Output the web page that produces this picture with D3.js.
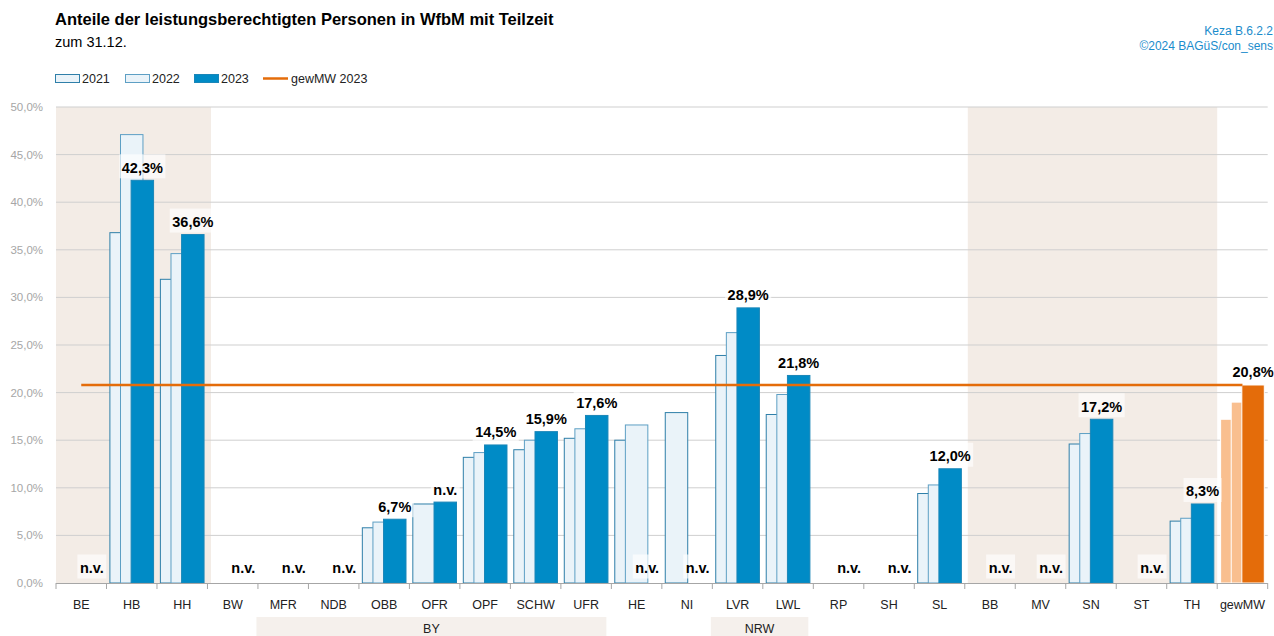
<!DOCTYPE html>
<html>
<head>
<meta charset="utf-8">
<script src="https://cdn.jsdelivr.net/npm/d3@7"></script>
<style>
  body { margin: 0; background: #fff; }
  svg { font-family: "Liberation Sans", Arial, sans-serif; }
</style>
</head>
<body>
<div class="chart"></div>
<script>
// Werte
const categories = ["BE","HB","HH","BW","MFR","NDB","OBB","OFR","OPF","SCHW","UFR","HE","NI","LVR","LWL","RP","SH","SL","BB","MV","SN","ST","TH","gewMW"];
const v2021 = [null,36.8,31.9,null,null,null,5.8,8.3,13.2,14.0,15.2,15.0,17.9,23.9,17.7,null,null,9.4,null,null,14.6,null,6.5,17.2];
const v2022 = [null,47.1,34.6,null,null,null,6.4,null,13.7,15.0,16.2,16.6,null,26.3,19.8,null,null,10.3,null,null,15.7,null,6.8,19.0];
const v2023 = [null,42.3,36.6,null,null,null,6.7,8.5,14.5,15.9,17.6,null,null,28.9,21.8,null,null,12.0,null,null,17.2,null,8.3,20.8];
const labels2023 = ["n.v.","42,3%","36,6%","n.v.","n.v.","n.v.","6,7%","n.v.","14,5%","15,9%","17,6%","n.v.","n.v.","28,9%","21,8%","n.v.","n.v.","12,0%","n.v.","n.v.","17,2%","n.v.","8,3%","20,8%"];
const gewMW2023 = 20.8;
const yTicks = [0,5,10,15,20,25,30,35,40,45,50];
const shaded = [["BE","HH"],["BB","TH"]];
const groups = [["BY","MFR","UFR"],["NRW","LVR","LWL"]];
const years = ["2021","2022","2023"];

const width = 1274, height = 636;
const svg = d3.select('.chart')
              .append('svg')
              .attr('width', width)
              .attr('height', height);

const x = d3.scaleBand().domain(categories).range([56, 1267.7]).padding(0);
const y = d3.scaleLinear().domain([0, 50]).range([583, 107]);
const bw = x.bandwidth();
const fmt = d => d.toFixed(1).replace('.', ',') + '%';

// Hintergrundflächen
shaded.forEach(function(s, i) {
  const x0 = x(s[0]) + (i ? 3 : 0);
  const x1 = x(s[1]) + bw + (i ? 0 : 3.5);
  svg.append("rect")
    .attr("x", x0).attr("y", y(50))
    .attr("width", x1 - x0).attr("height", y(0) - y(50))
    .attr("fill", "#f3ece6");
});

// Gitter
svg.append("g")
  .selectAll("line")
  .data(yTicks.slice(1))
  .enter().append("line")
  .attr("x1", 56).attr("x2", 1267.7)
  .attr("y1", d => y(d)).attr("y2", d => y(d))
  .attr("stroke", "#cfcfcf").attr("stroke-width", 1);

svg.append("g")
  .selectAll("text")
  .data(yTicks)
  .enter().append("text")
  .attr("x", 43).attr("y", d => y(d) + 4)
  .attr("text-anchor", "end")
  .attr("font-size", "11.5px")
  .attr("fill", "#a6a6a6")
  .text(fmt);

// Balken
const series = [
  {vals: v2021, off: -0.21, fill: "#eaf3f9", stroke: "#2f7fa9", ofill: "#f9bf8f"},
  {vals: v2022, off: 0, fill: "#eaf3f9", stroke: "#5d9fc4", ofill: "#f9bf8f"},
  {vals: v2023, off: 0.21, fill: "#008bc6", stroke: "#1a86b8", ofill: "#e46c0a"}
];
const barW = bw * 0.445;
series.forEach(function(s) {
  const d = categories.map((c, i) => ({c: c, v: s.vals[i]})).filter(d => d.v != null);
  svg.append("g")
    .selectAll("rect")
    .data(d)
    .enter().append("rect")
    .attr("x", d => x(d.c) + bw / 2 + s.off * bw - barW / 2)
    .attr("y", d => y(d.v))
    .attr("width", barW)
    .attr("height", d => y(0) - y(d.v))
    .attr("fill", d => d.c === "gewMW" ? s.ofill : s.fill)
    .attr("stroke", d => d.c === "gewMW" ? "#fff" : s.stroke)
    .attr("stroke-width", 1);
});

// Achse
svg.append("line")
  .attr("x1", 56).attr("x2", 1267.7)
  .attr("y1", y(0) + 0.5).attr("y2", y(0) + 0.5)
  .attr("stroke", "#a6a6a6");
svg.append("g")
  .selectAll("line")
  .data(categories.concat(["end"]))
  .enter().append("line")
  .attr("x1", (d, i) => 56 + i * bw).attr("x2", (d, i) => 56 + i * bw)
  .attr("y1", y(0)).attr("y2", y(0) + 6)
  .attr("stroke", "#a6a6a6");
svg.append("g")
  .selectAll("text")
  .data(categories)
  .enter().append("text")
  .attr("x", d => x(d) + bw / 2).attr("y", 609)
  .attr("text-anchor", "middle")
  .attr("font-size", "12.5px")
  .attr("fill", "#222")
  .text(d => d);

// Gruppen (BY, NRW)
groups.forEach(function(g) {
  const x0 = x(g[1]) - 1.5, x1 = x(g[2]) + bw - 5;
  svg.append("rect")
    .attr("x", x0).attr("y", 617).attr("width", x1 - x0).attr("height", 19)
    .attr("fill", "#f5f0ec");
  svg.append("text")
    .attr("x", (x0 + x1) / 2).attr("y", 633)
    .attr("text-anchor", "middle")
    .attr("font-size", "12.5px").attr("fill", "#222")
    .text(g[0]);
});

// gewichteter Mittelwert
svg.append("line")
  .attr("x1", x(categories[0]) + bw / 2)
  .attr("x2", x("gewMW") + bw / 2)
  .attr("y1", y(gewMW2023)).attr("y2", y(gewMW2023))
  .attr("stroke", "#e46c0a").attr("stroke-width", 2.5);

// Beschriftungen 2023
const lab = svg.append("g");
categories.forEach(function(c, i) {
  const cx = x(c) + bw / 2 + 0.21 * bw;
  const by = v2023[i] != null ? y(v2023[i]) - 7.5 : y(0) - 10;
  const g = lab.append("g");
  const t = g.append("text")
    .attr("x", cx).attr("y", by)
    .attr("text-anchor", "middle")
    .attr("font-size", "14.5px").attr("font-weight", "bold")
    .attr("fill", "#000")
    .text(labels2023[i]);
  const w = t.node().getComputedTextLength();
  g.insert("rect", "text")
    .attr("x", cx - w / 2 - 2.5).attr("y", by - 18.5)
    .attr("width", w + 5).attr("height", 24)
    .attr("fill", "#fff").attr("fill-opacity", 0.65);
});

// Titel
svg.append("text")
  .attr("x", 55).attr("y", 25)
  .attr("font-size", "16.5px").attr("font-weight", "bold")
  .text("Anteile der leistungsberechtigten Personen in WfbM mit Teilzeit");
svg.append("text")
  .attr("x", 55).attr("y", 47)
  .attr("font-size", "14.5px")
  .text("zum 31.12.");
svg.append("text")
  .attr("x", 1273).attr("y", 35)
  .attr("text-anchor", "end").attr("font-size", "12px").attr("fill", "#1a8ccc")
  .text("Keza B.6.2.2");
svg.append("text")
  .attr("x", 1273).attr("y", 50)
  .attr("text-anchor", "end").attr("font-size", "12px").attr("fill", "#1a8ccc")
  .text("©2024 BAGüS/con_sens");

// Legende
const legX = [55, 125, 194];
years.forEach(function(yr, i) {
  svg.append("rect")
    .attr("x", legX[i] + 0.5).attr("y", 74.5).attr("width", 24).attr("height", 8)
    .attr("fill", series[i].fill).attr("stroke", series[i].stroke);
  svg.append("text")
    .attr("x", legX[i] + 27).attr("y", 83)
    .attr("font-size", "12.5px").attr("fill", "#222")
    .text(yr);
});
svg.append("line")
  .attr("x1", 263).attr("x2", 288).attr("y1", 78.5).attr("y2", 78.5)
  .attr("stroke", "#e46c0a").attr("stroke-width", 2.5);
svg.append("text")
  .attr("x", 291).attr("y", 83)
  .attr("font-size", "12.5px").attr("fill", "#222")
  .text("gewMW 2023");
</script>
</body>
</html>
